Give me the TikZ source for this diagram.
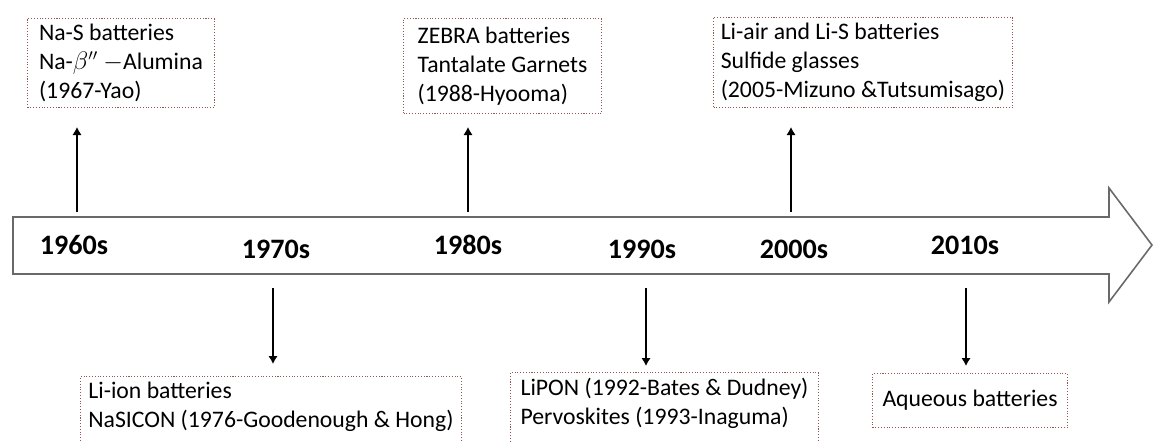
\documentclass[tikz,border=0pt]{standalone}
\usepackage{fontspec}
\setmainfont{Carlito}
\usepackage{xcolor}
\usetikzlibrary{arrows.meta}
\definecolor{boxred}{RGB}{150,85,85}
\definecolor{shaftgray}{RGB}{105,105,105}

\begin{document}
\begin{tikzpicture}[x=0.02cm, y=-0.02cm,
    note/.style={draw=boxred, densely dotted, line width=0.6pt, anchor=north west,
      align=left, inner xsep=0pt, inner ysep=0pt,
      font=\fontsize{13.5}{16.5}\selectfont},
    card/.style={note, execute at begin node={\rule{0pt}{#1}}},
    card/.default=14.5pt,
    cutcard/.style={card=15pt, inner ysep=3pt, execute at end node={\rule[-12pt]{0pt}{12pt}}},
    era/.style={font=\fontsize{16}{19}\selectfont\bfseries},
    link/.style={line width=1pt, -{Latex[length=1.6mm,width=1.9mm]}}]
\useasboundingbox (0,0) rectangle (1155,441);
\clip (0,0) rectangle (1155,441);

% timeline arrow
\draw[shaftgray, line width=0.9pt] (13,217) -- (1109,217) -- (1109,188) -- (1152,245)
  -- (1109,302) -- (1109,274) -- (13,274) -- cycle;

\node[era] (y60) at (74,245) {1960s};
\node[era] (y70) at (276,249) {1970s};
\node[era] (y80) at (468,245) {1980s};
\node[era] (y90) at (642,249) {1990s};
\node[era] (y00) at (794,249) {2000s};
\node[era] (y10) at (965,245) {2010s};

% boxes above
\node[card=16.5pt, minimum width=3.74cm, minimum height=1.78cm] (n60) at (27,18)
  {Na-S batteries\\Na-$\beta''$ $-$Alumina\\(1967-Yao)};
\node[card, minimum width=3.96cm, minimum height=1.9cm] (n80) at (403,18)
  {ZEBRA batteries\\Tantalate Garnets\\(1988-Hyooma)};
\node[card=16pt, minimum width=5.98cm, minimum height=1.8cm] (n00) at (713,17)
  {Li-air and Li-S batteries\\Sulfide glasses\\(2005-Mizuno \&Tutsumisago)};

% boxes below (cut by the lower edge)
\node[cutcard, minimum width=7.62cm] (n70) at (80,376)
  {Li-ion batteries\\NaSICON (1976-Goodenough \& Hong)};
\node[cutcard, minimum width=6.16cm] (n90) at (510,372)
  {LiPON (1992-Bates \& Dudney)\\Pervoskites (1993-Inaguma)};
\node[note, minimum width=3.9cm, minimum height=1.08cm, align=center] (n10) at (872,373)
  {Aqueous batteries};

% connectors
\coordinate (s60) at (77,212);  \coordinate (e60) at (77,127);
\coordinate (s80) at (468,212); \coordinate (e80) at (468,127);
\coordinate (s00) at (791,212); \coordinate (e00) at (791,127);
\coordinate (s70) at (273,288); \coordinate (e70) at (273,364);
\coordinate (s90) at (646,288); \coordinate (e90) at (646,366);
\coordinate (s10) at (966,288); \coordinate (e10) at (966,366);

\draw[link] (s60) -- (e60);
\draw[link] (s80) -- (e80);
\draw[link] (s00) -- (e00);
\draw[link] (s70) -- (e70);
\draw[link] (s90) -- (e90);
\draw[link] (s10) -- (e10);
\end{tikzpicture}
\end{document}
